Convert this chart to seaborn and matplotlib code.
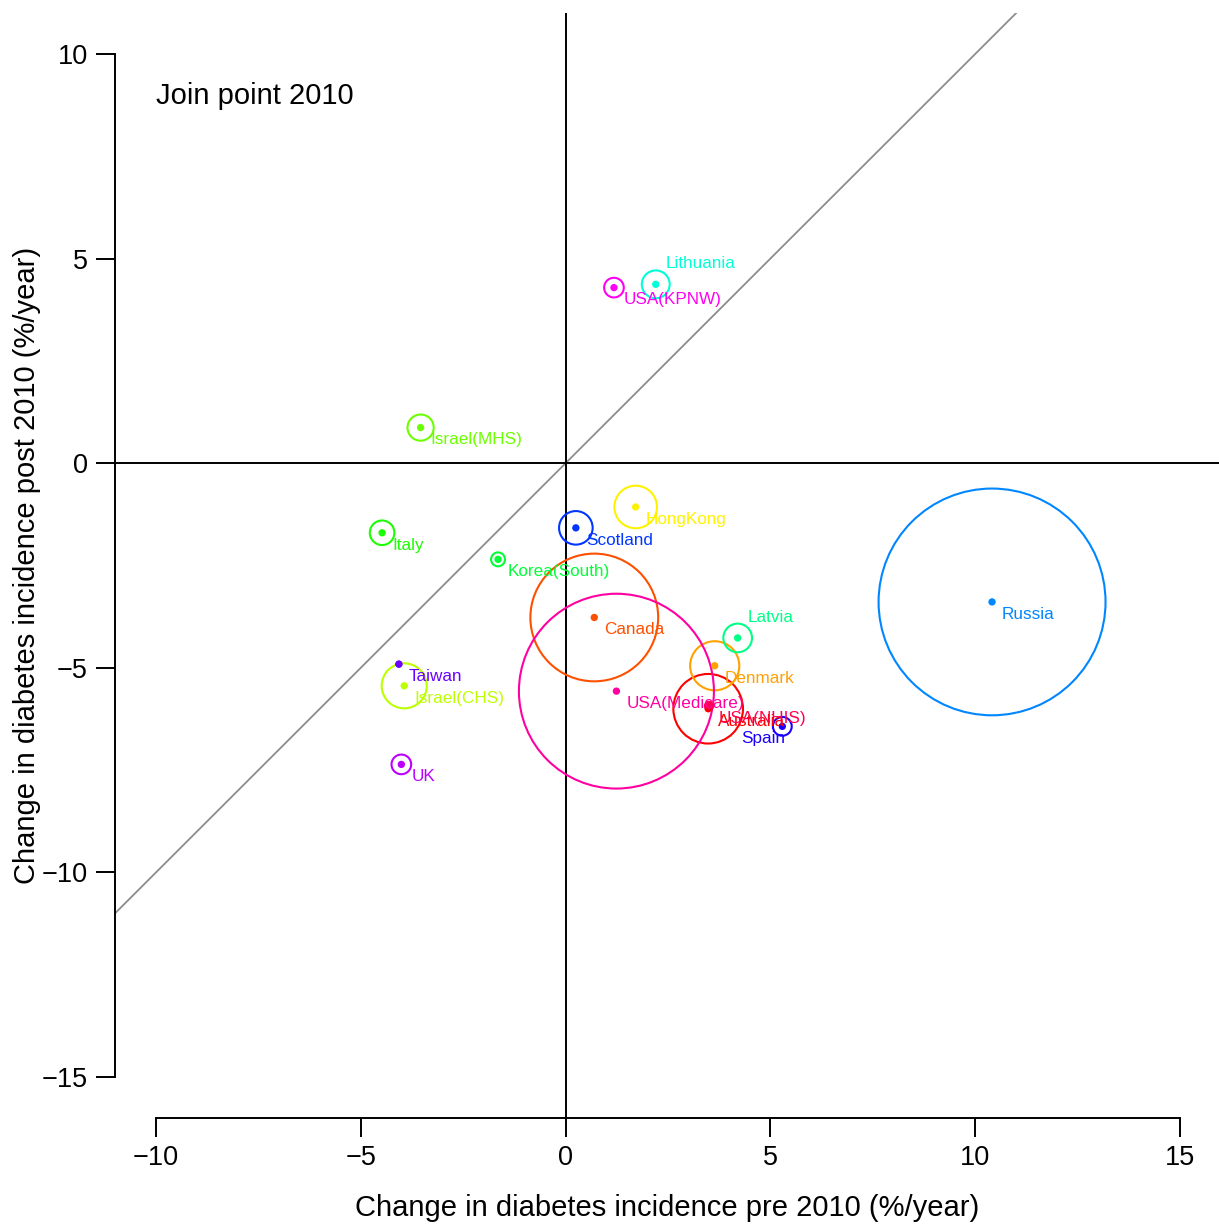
import matplotlib
matplotlib.use("Agg")
import matplotlib.pyplot as plt
from matplotlib.patches import Circle
import seaborn as sns
import pandas as pd

# ---- data ----
countries = ["Australia", "Canada", "Denmark", "HongKong", "Israel(CHS)", "Israel(MHS)",
             "Italy", "Korea(South)", "Latvia", "Lithuania", "Russia", "Scotland", "Spain",
             "Taiwan", "UK", "USA(KPNW)", "USA(Medicare)", "USA(NHIS)"]
pre_2010 = [3.48, 0.70, 3.64, 1.71, -3.94, -3.54, -4.48, -1.65, 4.20, 2.20, 10.41, 0.25, 5.29,
            -4.07, -4.01, 1.18, 1.24, 3.50]
post_2010 = [-6.00, -3.77, -4.95, -1.07, -5.44, 0.87, -1.70, -2.35, -4.27, 4.37, -3.39, -1.58,
             -6.43, -4.91, -7.36, 4.29, -5.57, -5.93]
circle_radius = [0.85, 1.56, 0.60, 0.52, 0.55, 0.32, 0.30, 0.17, 0.35, 0.34, 2.77, 0.41, 0.23,
                 0.06, 0.24, 0.24, 2.38, 0.10]
colors = ["#FF0000", "#FF5000", "#FFA100", "#FFF200", "#BCFF00", "#6BFF00", "#1BFF00",
          "#00FF36", "#00FF86", "#00FFD7", "#0086FF", "#0036FF", "#1B00FF", "#6B00FF",
          "#BC00FF", "#FF00F2", "#FF00A1", "#FF0050"]
labels_above = ["Lithuania", "Latvia"]
labels_left = ["Spain"]
x_ticks = [-10, -5, 0, 5, 10, 15]
y_ticks = [-15, -10, -5, 0, 5, 10]
annotation = "Join point 2010"
x_label = "Change in diabetes incidence pre 2010 (%/year)"
y_label = "Change in diabetes incidence post 2010 (%/year)"

df = pd.DataFrame({"country": countries, "pre": pre_2010, "post": post_2010,
                   "radius": circle_radius})
palette = dict(zip(countries, colors))

sns.set_style("white")
plt.rcParams["font.family"] = ["Liberation Sans", "DejaVu Sans"]
plt.rcParams["text.color"] = "black"
plt.rcParams["axes.labelcolor"] = "black"
plt.rcParams["xtick.color"] = "black"
plt.rcParams["ytick.color"] = "black"

fig = plt.figure(figsize=(12.19, 12.26), dpi=100)
ax = fig.add_axes([115 / 1219, 108 / 1226, (1219 - 115) / 1219, (1118 - 13) / 1226])

ax.set_xlim(-11, 15.95)
ax.set_ylim(-16, 11)

# reference lines
ax.axline((0, 0), slope=1, color="#8C8C8C", lw=1.3, zorder=1)
ax.axhline(0, color="black", lw=1.4, zorder=1)
ax.axvline(0, color="black", lw=1.4, zorder=1)

# circles
for _, r in df.iterrows():
    ax.add_patch(Circle((r["pre"], r["post"]), r["radius"], fill=False,
                        edgecolor=palette[r["country"]], lw=1.5, zorder=2))

# center dots
sns.scatterplot(data=df, x="pre", y="post", hue="country", palette=palette,
                s=28, linewidth=0, legend=False, ax=ax, zorder=3)

# labels
for _, r in df.iterrows():
    dy = 0.40 if r["country"] in labels_above else -0.41
    dx = -1.0 if r["country"] in labels_left else 0.24
    ax.text(r["pre"] + dx, r["post"] + dy, r["country"], color=palette[r["country"]],
            fontsize=12.3, ha="left", va="baseline", zorder=4)

ax.text(-10, 8.98, annotation, fontsize=21, ha="left", va="center", color="black")

# axes styling (R-like)
for s in ["top", "right"]:
    ax.spines[s].set_visible(False)
ax.spines["left"].set_bounds(-15, 10)
ax.spines["bottom"].set_bounds(-10, 15)
for s in ["left", "bottom"]:
    ax.spines[s].set_linewidth(1.4)
    ax.spines[s].set_color("black")
ax.set_xticks(x_ticks)
ax.set_yticks(y_ticks)
ax.tick_params(axis="both", direction="out", length=13.5, width=1.4, labelsize=19.5,
               colors="black", labelcolor="black", pad=6, left=True, bottom=True)
ax.set_xlabel(x_label, fontsize=21, color="black")
ax.set_ylabel(y_label, fontsize=21, color="black")
ax.xaxis.set_label_coords(0.5, (1118 - 1208) / 1105)
ax.xaxis.label.set_va("center")
ax.yaxis.set_label_coords((27 - 115) / 1104, 0.5)
ax.yaxis.label.set_va("center")
ax.grid(False)

fig.savefig("out.png", dpi=100)
